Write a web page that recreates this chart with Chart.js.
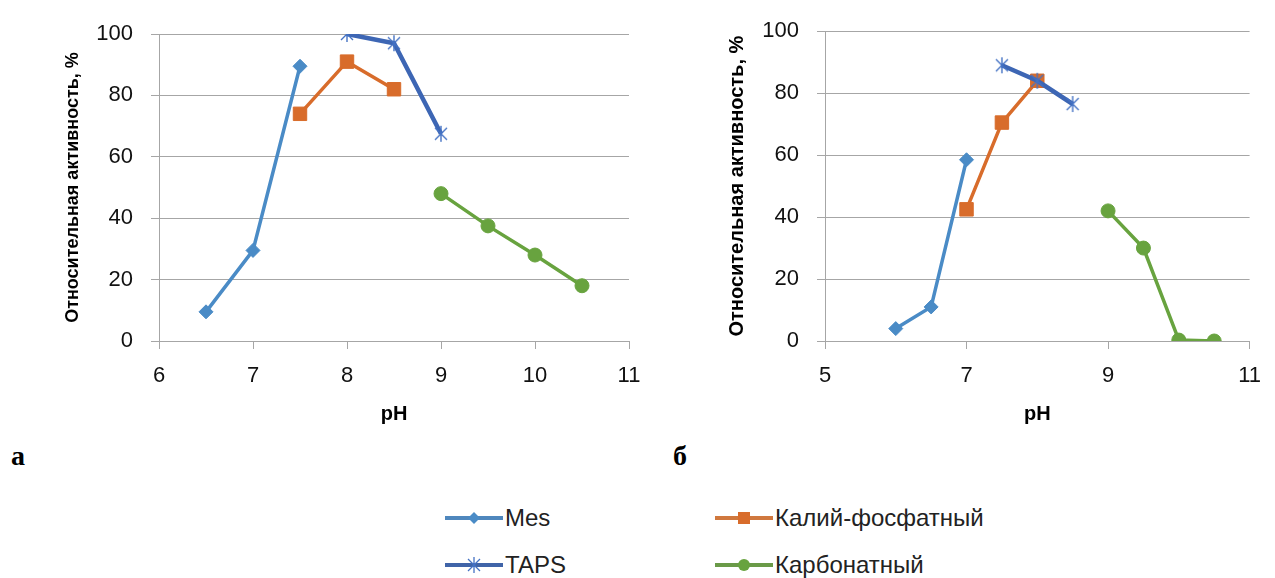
<!DOCTYPE html>
<html><head><meta charset="utf-8">
<script src="https://cdn.jsdelivr.net/npm/chart.js@4.4.0/dist/chart.umd.min.js"></script>
<style>
html,body{margin:0;padding:0;background:#fff;}
body{width:1275px;height:578px;position:relative;overflow:hidden;font-family:"Liberation Sans",Arial,sans-serif;}
#ca{position:absolute;left:0;top:0;}
#cb{position:absolute;left:640px;top:0;}
.lab{position:absolute;font-family:"Liberation Serif","Times New Roman",serif;font-weight:bold;font-size:28px;color:#000;line-height:1;}
.leg{position:absolute;display:flex;align-items:center;font-size:24px;color:#222;white-space:nowrap;height:30px;}
.leg svg{margin-right:2px;}
</style></head><body>
<canvas id="ca" width="660" height="440"></canvas>
<canvas id="cb" width="635" height="440"></canvas>
<div class="lab" style="left:11px;top:442px">а</div>
<div class="lab" style="left:673px;top:442px">б</div>

<div class="leg" style="left:445px;top:503px">
<svg width="58" height="16"><line x1="0" y1="8" x2="58" y2="8" stroke="#4f87bd" stroke-width="4"/><polygon points="29,2 35,8 29,14 23,8" fill="#4a8bc6"/></svg>Mes</div>
<div class="leg" style="left:715px;top:503px">
<svg width="58" height="16"><line x1="0" y1="8" x2="58" y2="8" stroke="#d0783e" stroke-width="4"/><rect x="23" y="2" width="12" height="12" fill="#d86c2b"/></svg>Калий-фосфатный</div>
<div class="leg" style="left:445px;top:550px">
<svg width="58" height="16"><line x1="0" y1="8" x2="58" y2="8" stroke="#4064a8" stroke-width="4"/><g stroke="#4472c4" stroke-width="1.3"><line x1="23" y1="2" x2="35" y2="14"/><line x1="35" y1="2" x2="23" y2="14"/><line x1="29" y1="0" x2="29" y2="16"/></g></svg>TAPS</div>
<div class="leg" style="left:715px;top:550px">
<svg width="58" height="16"><line x1="0" y1="8" x2="58" y2="8" stroke="#6a9a48" stroke-width="4"/><circle cx="29" cy="8" r="6" fill="#68a33f"/></svg>Карбонатный</div>

<script>
// ---- data (chart а) ----
const phA_mes = [6.5, 7, 7.5];
const actA_mes = [9.5, 29.5, 89.5];
const phA_kp = [7.5, 8, 8.5];
const actA_kp = [74, 91, 82];
const phA_taps = [8, 8.5, 9];
const actA_taps = [100, 97, 67.5];
const phA_carb = [9, 9.5, 10, 10.5];
const actA_carb = [48, 37.5, 28, 18];
// ---- data (chart б) ----
const phB_mes = [6, 6.5, 7];
const actB_mes = [4, 11, 58.5];
const phB_kp = [7, 7.5, 8];
const actB_kp = [42.5, 70.5, 84];
const phB_taps = [7.5, 8, 8.5];
const actB_taps = [89, 84, 76.5];
const phB_carb = [9, 9.5, 10, 10.5];
const actB_carb = [42, 30, 0.3, 0];

const seriesNames = ['Mes', 'Калий-фосфатный', 'TAPS', 'Карбонатный'];
const xTicksA = [6, 7, 8, 9, 10, 11];
const xTicksB = [5, 7, 9, 11];
const yTicks = [0, 20, 40, 60, 80, 100];
const yTitle = 'Относительная активность, %';
const xTitle = 'pH';

const pts = (xs, ys) => xs.map((x, i) => ({x: x, y: ys[i]}));

// asterisk marker
function starMarker() {
  const c = document.createElement('canvas');
  c.width = 18; c.height = 18;
  const g = c.getContext('2d');
  g.strokeStyle = '#4472c4'; g.lineWidth = 1.4;
  g.beginPath();
  g.moveTo(3, 3); g.lineTo(15, 15);
  g.moveTo(15, 3); g.lineTo(3, 15);
  g.moveTo(9, 1); g.lineTo(9, 17);
  g.stroke();
  return c;
}
const star = starMarker();

const cMes = '#4a8bc6', cKp = '#d86c2b', cTaps = '#3d66b4', cCarb = '#68a33f';

function datasets(m, k, t, c) {
  return [
    {label: seriesNames[0], data: m, borderColor: cMes, backgroundColor: cMes, borderWidth: 3.5,
     pointStyle: 'rectRot', pointRadius: 7, pointHoverRadius: 7, pointBorderWidth: 1, order: 3},
    {label: seriesNames[1], data: k, borderColor: cKp, backgroundColor: cKp, borderWidth: 3.5,
     pointStyle: 'rect', pointRadius: 9.5, pointHoverRadius: 9.5, pointBorderWidth: 1, order: 2},
    {label: seriesNames[2], data: t, borderColor: cTaps, backgroundColor: cTaps, borderWidth: 4.5,
     pointStyle: star, pointRadius: 9, order: 1},
    {label: seriesNames[3], data: c, borderColor: cCarb, backgroundColor: cCarb, borderWidth: 3.5,
     pointStyle: 'circle', pointRadius: 7, pointHoverRadius: 7, pointBorderWidth: 1, order: 4}
  ];
}

const gridCol = '#a6a6a6';
function makeChart(id, ds, xmin, xmax, xstep, xTicks, opts) {
  return new Chart(document.getElementById(id), {
    type: 'line',
    data: {datasets: ds},
    options: {
      responsive: false, animation: false,
      layout: {padding: {top: opts.top, right: opts.right, bottom: 0, left: 0}},
      plugins: {legend: {display: false}, tooltip: {enabled: false}},
      elements: {line: {tension: 0}},
      scales: {
        x: {
          type: 'linear', min: xmin, max: xmax,
          afterBuildTicks: s => { s.ticks = xTicks.map(v => ({value: v})); },
          afterFit: s => { s.height = 99; },
          grid: {drawOnChartArea: false, drawTicks: true, tickLength: 8, color: gridCol, lineWidth: 1},
          border: {color: gridCol, width: 1},
          ticks: {padding: 14, color: '#111', font: {family: 'Liberation Sans', size: 22}, maxRotation: 0},
          title: {display: true, text: xTitle, color: '#000',
                  font: {family: 'Liberation Sans', size: 20, weight: 'bold'}, padding: {top: 0, bottom: 14}}
        },
        y: {
          min: 0, max: 100,
          afterBuildTicks: s => { s.ticks = yTicks.map(v => ({value: v})); },
          afterFit: s => { s.width = opts.yw; },
          grid: {drawOnChartArea: true, drawTicks: true, tickLength: 8, color: gridCol, lineWidth: 1},
          border: {color: gridCol, width: 1},
          ticks: {padding: 18, color: '#111', font: {family: 'Liberation Sans', size: 22}},
          title: {display: true, text: yTitle, color: '#000',
                  font: {family: 'Liberation Sans', size: opts.tsize, weight: 'bold'}, padding: {top: opts.tpad, bottom: 0}}
        }
      }
    }
  });
}

makeChart('ca', datasets(pts(phA_mes, actA_mes), pts(phA_kp, actA_kp), pts(phA_taps, actA_taps), pts(phA_carb, actA_carb)),
  6, 11, 1, xTicksA, {top: 34, right: 31, yw: 159, tsize: 18, tpad: 62.7});
makeChart('cb', datasets(pts(phB_mes, actB_mes), pts(phB_kp, actB_kp), pts(phB_taps, actB_taps), pts(phB_carb, actB_carb)),
  5, 11, 2, xTicksB, {top: 24, right: 15, yw: 185, tsize: 20, tpad: 85});
</script>
</body></html>
